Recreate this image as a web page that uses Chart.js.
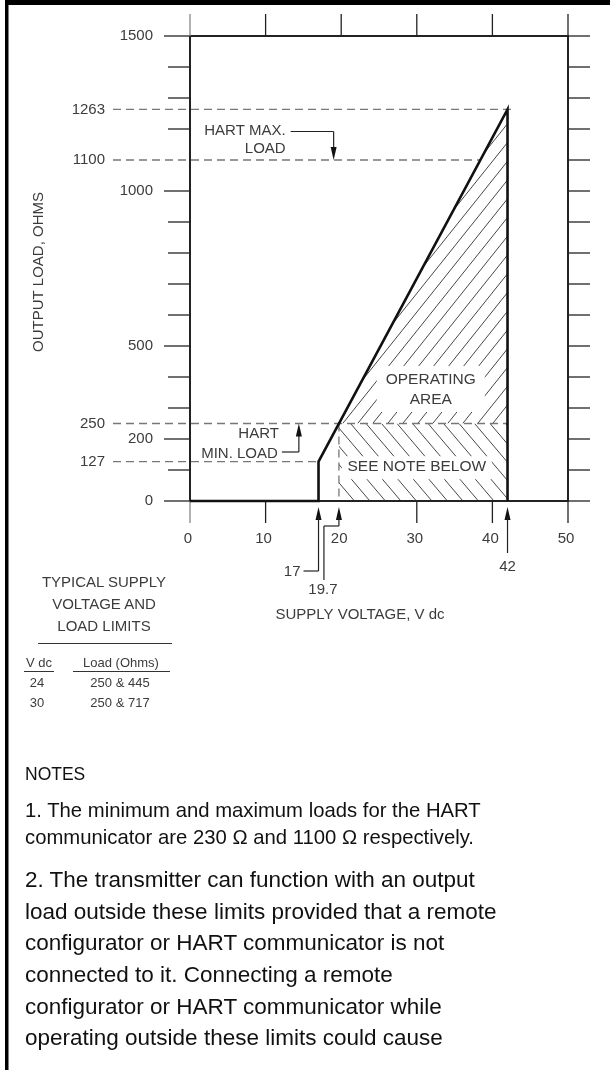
<!DOCTYPE html>
<html lang="en">
<head>
  <meta charset="UTF-8" />
  <title>Supply Voltage and Load Limits</title>
  <script src="https://cdn.jsdelivr.net/npm/chart.js"></script>
  <style>
    html, body {
      margin: 0;
      padding: 0;
      background: #fff;
    }

    body {
      width: 610px;
      height: 1070px;
      position: relative;
      overflow: hidden;
      font-family: 'Liberation Sans', Arial, sans-serif;
    }

    #loadChart {
      position: absolute;
      left: 0;
      top: 0;
    }

    .txt {
      position: absolute;
      white-space: nowrap;
      line-height: 1;
      transform: translate(-50%, -50%);
      color: #3c3c3c;
      font-size: 15px;
    }

    .small { font-size: 13px; }

    .note {
      position: absolute;
      left: 25px;
      white-space: nowrap;
      line-height: 1;
      transform: translateY(-50%);
      color: #111;
      font-size: 20.3px;
    }

    .note.big { font-size: 22.5px; }

    .rule {
      position: absolute;
      height: 1px;
      background: #333;
    }
  </style>
</head>
<body>

  <canvas id="loadChart" width="610" height="1070"></canvas>

  <div class="txt" style="left:104px; top:581px;">TYPICAL SUPPLY</div>
  <div class="txt" style="left:104px; top:603px;">VOLTAGE AND</div>
  <div class="txt" style="left:104px; top:625px;">LOAD LIMITS</div>
  <div class="rule" style="left:38px; top:643px; width:134px;"></div>
  <div class="txt small" style="left:39px; top:662px;">V dc</div>
  <div class="txt small" style="left:121px; top:662px;">Load (Ohms)</div>
  <div class="rule" style="left:24px; top:671px; width:30px;"></div>
  <div class="rule" style="left:73px; top:671px; width:97px;"></div>
  <div id="limitRows"></div>

  <div class="note" style="top:775px; font-size:17.5px;">NOTES</div>
  <div class="note" style="top:810px;">1. The minimum and maximum loads for the HART</div>
  <div class="note" style="top:837px;">communicator are 230 &Omega; and 1100 &Omega; respectively.</div>
  <div class="note big" style="top:880px;">2. The transmitter can function with an output</div>
  <div class="note big" style="top:912px;">load outside these limits provided that a remote</div>
  <div class="note big" style="top:943px;">configurator or HART communicator is not</div>
  <div class="note big" style="top:975px;">connected to it. Connecting a remote</div>
  <div class="note big" style="top:1007px;">configurator or HART communicator while</div>
  <div class="note big" style="top:1038px;">operating outside these limits could cause</div>

  <script>
    // boundary of the operating area (V dc, ohms)
    const supplyVoltage = [0, 17, 17, 42, 42];
    const outputLoad = [0, 0, 127, 1263, 0];

    // axis ticks and marked values
    const loadTickLabels = [0, 200, 500, 1000, 1500];
    const loadMarks = [127, 250, 1100, 1263];
    const markEndVoltage = [17, 42, 38.4, 43];
    const voltTickLabels = [0, 10, 20, 30, 40, 50];
    const voltMarks = [17, 19.7, 42];
    const minLoadVoltage = 19.7;
    const minLoad = 250;
    const hartMaxLoad = 1100;
    const maxLoad = 1263;

    // typical limits table
    const tableVdc = ['24', '30'];
    const tableLoad = ['250 & 445', '250 & 717'];

    const rows = document.getElementById('limitRows');
    tableVdc.forEach((v, i) => {
      const y = 682 + i * 20;
      rows.innerHTML += `<div class="txt small" style="left:37px; top:${y}px;">${v}</div>` +
        `<div class="txt small" style="left:120px; top:${y}px;">${tableLoad[i]}</div>`;
    });

    const FONT = "15px 'Liberation Sans', Arial, sans-serif";
    const GRAY_TXT = '#3c3c3c';

    function hatch(ctx, pts, k, step, up) {
      ctx.save();
      ctx.beginPath();
      pts.forEach((p, i) => i ? ctx.lineTo(p[0], p[1]) : ctx.moveTo(p[0], p[1]));
      ctx.closePath();
      ctx.clip();
      const xs = pts.map(p => p[0]), ys = pts.map(p => p[1]);
      const x0 = Math.min(...xs), x1 = Math.max(...xs);
      const y0 = Math.min(...ys), y1 = Math.max(...ys);
      const h = y1 - y0;
      ctx.beginPath();
      for (let x = x0 - h * k - step; x < x1 + h * k + step; x += step) {
        if (up) {
          ctx.moveTo(x, y1);
          ctx.lineTo(x + h * k, y0);
        } else {
          ctx.moveTo(x, y0);
          ctx.lineTo(x + h * k, y1);
        }
      }
      ctx.strokeStyle = '#333';
      ctx.lineWidth = 0.9;
      ctx.stroke();
      ctx.restore();
    }

    function line(ctx, x1, y1, x2, y2) {
      ctx.beginPath();
      ctx.moveTo(x1, y1);
      ctx.lineTo(x2, y2);
      ctx.stroke();
    }

    function arrowHead(ctx, x, tipY, dir) {
      // dir = 1 points up, -1 points down
      ctx.beginPath();
      ctx.moveTo(x, tipY);
      ctx.lineTo(x - 3, tipY + dir * 13);
      ctx.lineTo(x + 3, tipY + dir * 13);
      ctx.closePath();
      ctx.fill();
    }

    function text(ctx, s, x, y, align) {
      ctx.textAlign = align || 'center';
      ctx.fillText(s, x, y);
    }

    const drawing = {
      id: 'drawing',
      beforeDatasetsDraw(chart) {
        const ctx = chart.ctx;
        const xs = chart.scales.x, ys = chart.scales.y;
        const px = v => xs.getPixelForValue(v);
        const py = v => ys.getPixelForValue(v);
        const L = px(0), R = px(50), T = py(1500), B = py(0);

        // page border
        ctx.fillStyle = '#000';
        ctx.fillRect(5, 0, 605, 5);
        ctx.fillRect(5, 0, 3.5, 1070);

        // hatching
        hatch(ctx, [[px(minLoadVoltage), py(minLoad)], [px(42), py(maxLoad)], [px(42), py(minLoad)]], 0.8, 15, true);
        hatch(ctx, [[px(minLoadVoltage), py(0)], [px(minLoadVoltage), py(minLoad)], [px(42), py(minLoad)], [px(42), py(0)]], 0.85, 15.5, false);

        // dashed reference lines
        ctx.save();
        ctx.strokeStyle = '#777';
        ctx.lineWidth = 1.3;
        ctx.setLineDash([8, 5]);
        loadMarks.forEach((m, i) => line(ctx, 113, py(m), px(markEndVoltage[i]), py(m)));
        line(ctx, px(minLoadVoltage), py(minLoad), px(minLoadVoltage), B);
        ctx.restore();

        // white label boxes inside the hatch
        ctx.font = "15.5px 'Liberation Sans', Arial, sans-serif";
        ctx.textBaseline = 'middle';
        const ox = px(31.85), oy = py(358);
        ctx.fillStyle = '#fff';
        ctx.fillRect(ox - 54, oy - 24, 108, 46);
        const sx = px(30), sy = py(109);
        ctx.fillRect(sx - 75, sy - 11, 150, 23);
        ctx.fillStyle = GRAY_TXT;
        text(ctx, 'OPERATING', ox, oy - 10);
        text(ctx, 'AREA', ox, oy + 10);
        text(ctx, 'SEE NOTE BELOW', sx, sy);

        // frame
        ctx.strokeStyle = '#222';
        ctx.lineWidth = 2;
        ctx.strokeRect(L, T, R - L, B - T);

        // ticks
        ctx.lineWidth = 1.3;
        for (let v = 0; v <= 1500; v += 100) {
          const y = py(v);
          if (!loadMarks.includes(v)) {
            line(ctx, loadTickLabels.includes(v) ? 164 : 168, y, L, y);
          }
          line(ctx, R, y, R + 22, y);
        }
        voltTickLabels.forEach(v => {
          ctx.strokeStyle = v === 0 ? '#888' : '#222';
          line(ctx, px(v), T, px(v), T - 22);
          if (v !== 20) line(ctx, px(v), B, px(v), B + 22);
        });
        ctx.strokeStyle = '#222';
      },
      afterDatasetsDraw(chart) {
        const ctx = chart.ctx;
        const xs = chart.scales.x, ys = chart.scales.y;
        const px = v => xs.getPixelForValue(v);
        const py = v => ys.getPixelForValue(v);
        const B = py(0);

        ctx.save();
        ctx.font = FONT;
        ctx.textBaseline = 'middle';
        ctx.fillStyle = GRAY_TXT;

        // y labels
        loadTickLabels.forEach(v => text(ctx, String(v), 153, py(v), 'right'));
        loadMarks.forEach(v => text(ctx, String(v), 105, py(v), 'right'));
        // x labels
        voltTickLabels.forEach(v => text(ctx, String(v), px(v) - 2, 539));

        // axis titles
        text(ctx, 'SUPPLY VOLTAGE, V dc', 360, 615);
        ctx.save();
        ctx.translate(39, 272);
        ctx.rotate(-Math.PI / 2);
        text(ctx, 'OUTPUT LOAD, OHMS', 0, 0);
        ctx.restore();

        // HART max load callout
        ctx.strokeStyle = '#222';
        ctx.fillStyle = '#111';
        ctx.lineWidth = 1.2;
        const ax = px(19);
        const ay = py(hartMaxLoad);
        line(ctx, ax - 43, 131.5, ax, 131.5);
        line(ctx, ax, 131.5, ax, ay - 10);
        arrowHead(ctx, ax, ay, -1);
        ctx.fillStyle = GRAY_TXT;
        text(ctx, 'HART MAX.', ax - 48, 131, 'right');
        text(ctx, 'LOAD', ax - 48, 149, 'right');

        // HART min load callout
        const bx = px(14.4);
        const by = py(minLoad);
        ctx.fillStyle = '#111';
        line(ctx, bx - 17, 452, bx, 452);
        line(ctx, bx, 452, bx, by + 10);
        arrowHead(ctx, bx, by, 1);
        ctx.fillStyle = GRAY_TXT;
        text(ctx, 'HART', bx - 20, 434, 'right');
        text(ctx, 'MIN. LOAD', bx - 21, 454, 'right');

        // voltage markers under the axis
        const tip = B + 6;
        ctx.fillStyle = '#111';
        const m17 = px(voltMarks[0]), m197 = px(voltMarks[1]), m42 = px(voltMarks[2]);
        arrowHead(ctx, m17, tip, 1);
        line(ctx, m17, tip + 10, m17, 571);
        line(ctx, m17, 571, m17 - 15, 571);
        arrowHead(ctx, m197, tip, 1);
        line(ctx, m197, tip + 10, m197, 526);
        line(ctx, m197, 526, m197 - 15, 526);
        line(ctx, m197 - 15, 526, m197 - 15, 580);
        arrowHead(ctx, m42, tip, 1);
        line(ctx, m42, tip + 10, m42, 553);
        ctx.fillStyle = GRAY_TXT;
        text(ctx, String(voltMarks[0]), m17 - 18, 572, 'right');
        text(ctx, String(voltMarks[1]), m197 - 16, 590);
        text(ctx, String(voltMarks[2]), m42, 567);
        ctx.restore();
      }
    };

    new Chart(document.getElementById('loadChart'), {
      type: 'scatter',
      data: {
        datasets: [{
          data: supplyVoltage.map((v, i) => ({ x: v, y: outputLoad[i] })),
          showLine: true,
          borderColor: '#111',
          borderWidth: 2.6,
          pointRadius: 0,
          tension: 0,
          clip: false
        }]
      },
      options: {
        responsive: false,
        animation: false,
        devicePixelRatio: 1,
        layout: { padding: { left: 190, right: 42, top: 36, bottom: 569 } },
        plugins: {
          legend: { display: false },
          tooltip: { enabled: false }
        },
        scales: {
          x: { type: 'linear', min: 0, max: 50, display: false },
          y: { type: 'linear', min: 0, max: 1500, display: false }
        }
      },
      plugins: [drawing]
    });
  </script>
</body>
</html>
